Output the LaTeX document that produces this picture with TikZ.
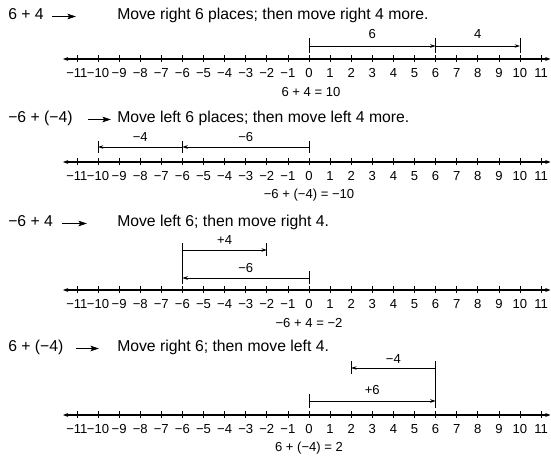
\documentclass[tikz,border=0pt]{standalone}
\usepackage{fontspec}
\setmainfont{Liberation Sans}
\usetikzlibrary{arrows.meta}
\newcommand\nlabel[1]{\ifnum#1<0 −\number-#1\relax\else#1\fi}
\newcommand\X[1]{309+21.1*(#1)}
\tikzset{
  axis/.style={line width=0.8pt,{Stealth[length=4pt,width=3pt]}-{Stealth[length=4pt,width=3pt]}},
  tick/.style={line width=0.6pt},
  stopbar/.style={line width=0.6pt},
  move/.style={line width=0.55pt,-{Stealth[length=4pt,width=2.6pt]}},
  tlab/.style={font=\fontsize{9.8pt}{11pt}\selectfont,inner sep=0pt},
  blab/.style={font=\fontsize{9.8pt}{11pt}\selectfont,inner sep=0pt,anchor=base},
  eqlab/.style={font=\fontsize{9.8pt}{11pt}\selectfont,inner sep=0pt,anchor=base},
  ttl/.style={font=\fontsize{11.8pt}{13pt}\selectfont,inner sep=0pt,anchor=base west},
  tarrow/.style={line width=0.5pt,-{Stealth[length=6.5pt,width=4.2pt,inset=1.5pt]}}
}
\newcommand\numline[2]{%
  \coordinate (#1L) at (63,#2);
  \coordinate (#1R) at (550.5,#2);
  \draw[axis] (#1L) -- (#1R);
  \foreach \i in {0,...,22}{%
    \pgfmathtruncatemacro\n{\i-11}%
    \coordinate (#1\i) at ({\X{\n}},#2);
    \draw[tick] (#1\i) ++(0,-3.5) -- ++(0,7);
    \node[tlab] (#1t\i) at ({\X{\n}},{#2+14}) {\nlabel{\n}};
  }%
}
\begin{document}
\begin{tikzpicture}[x=0.75pt,y=-0.75pt]
\useasboundingbox (0,0) rectangle (551,456);

% ---------- Panel 1 ----------
\node[ttl] (e1) at (8,20) {6 + 4};
\coordinate (e1a) at (52,16.5);
\coordinate (e1b) at (76,16.5);
\draw[tarrow] (e1a) -- (e1b);
\node[ttl] (d1) at (117,20) {Move right 6 places; then move right 4 more.};
\numline{A}{59}
\coordinate (b1a) at ({\X{0}},46);
\coordinate (b1b) at ({\X{6}},46);
\coordinate (b1c) at ({\X{10}},46);
\draw[stopbar] (b1a) ++(0,-7.5) -- ++(0,15);
\draw[stopbar] (b1b) ++(0,-7.5) -- ++(0,15);
\draw[stopbar] (b1c) ++(0,-7.5) -- ++(0,15);
\draw[move] (b1a) -- (b1b);
\draw[move] (b1b) -- (b1c);
\node[blab] (m1a) at ({\X{3}},39) {6};
\node[blab] (m1b) at ({\X{8}},39) {4};
\node[eqlab] (q1) at ({\X{0}+2},97) {6 + 4 = 10};

% ---------- Panel 2 ----------
\node[ttl] (e2) at (8,123) {−6 + (−4)};
\coordinate (e2a) at (88,119.5);
\coordinate (e2b) at (111,119.5);
\draw[tarrow] (e2a) -- (e2b);
\node[ttl] (d2) at (117,123) {Move left 6 places; then move left 4 more.};
\numline{B}{162}
\coordinate (b2a) at ({\X{0}},147);
\coordinate (b2b) at ({\X{-6}},147);
\coordinate (b2c) at ({\X{-10}},147);
\draw[stopbar] (b2a) ++(0,-6) -- ++(0,12);
\draw[stopbar] (b2b) ++(0,-6) -- ++(0,12);
\draw[stopbar] (b2c) ++(0,-6) -- ++(0,12);
\draw[move] (b2a) -- (b2b);
\draw[move] (b2b) -- (b2c);
\node[blab] (m2a) at ({\X{-3}},141.5) {−6};
\node[blab] (m2b) at ({\X{-8}},141.5) {−4};
\node[eqlab] (q2) at ({\X{0}},199) {−6 + (−4) = −10};

% ---------- Panel 3 ----------
\node[ttl] (e3) at (8,227) {−6 + 4};
\coordinate (e3a) at (62,223.5);
\coordinate (e3b) at (87,223.5);
\draw[tarrow] (e3a) -- (e3b);
\node[ttl] (d3) at (117,227) {Move left 6; then move right 4.};
\numline{C}{290}
\coordinate (b3a) at ({\X{-6}},250);
\coordinate (b3b) at ({\X{-2}},250);
\coordinate (b3c) at ({\X{0}},278);
\coordinate (b3d) at ({\X{-6}},278);
\draw[stopbar] (b3a) ++(0,-7) -- (b3d) -- ++(0,6);
\draw[stopbar] (b3b) ++(0,-6.5) -- ++(0,13);
\draw[stopbar] (b3c) ++(0,-6.5) -- ++(0,13);
\draw[move] (b3a) -- (b3b);
\draw[move] (b3c) -- (b3d);
\node[blab] (m3a) at ({\X{-4}},245) {+4};
\node[blab] (m3b) at ({\X{-3}},272.5) {−6};
\node[eqlab] (q3) at ({\X{0}},328) {−6 + 4 = −2};

% ---------- Panel 4 ----------
\node[ttl] (e4) at (8,352) {6 + (−4)};
\coordinate (e4a) at (76,348.5);
\coordinate (e4b) at (99,348.5);
\draw[tarrow] (e4a) -- (e4b);
\node[ttl] (d4) at (117,352) {Move right 6; then move left 4.};
\numline{D}{415}
\coordinate (b4a) at ({\X{6}},368);
\coordinate (b4b) at ({\X{2}},368);
\coordinate (b4c) at ({\X{0}},401);
\coordinate (b4d) at ({\X{6}},401);
\draw[stopbar] (b4a) ++(0,-6.5) -- (b4d) -- ++(0,7);
\draw[stopbar] (b4b) ++(0,-6.5) -- ++(0,13);
\draw[stopbar] (b4c) ++(0,-7) -- ++(0,14);
\draw[move] (b4a) -- (b4b);
\draw[move] (b4c) -- (b4d);
\node[blab] (m4a) at ({\X{4}},363.5) {−4};
\node[blab] (m4b) at ({\X{3}},394.5) {+6};
\node[eqlab] (q4) at ({\X{0}},452) {6 + (−4) = 2};
\end{tikzpicture}
\end{document}
